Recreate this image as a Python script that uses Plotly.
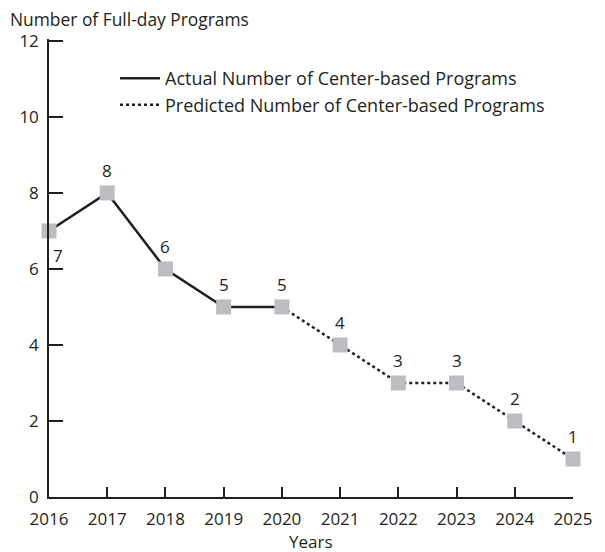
import plotly.graph_objects as go

years = [2016, 2017, 2018, 2019, 2020, 2021, 2022, 2023, 2024, 2025]
programs = [7, 8, 6, 5, 5, 4, 3, 3, 2, 1]
actual_years = [2016, 2017, 2018, 2019, 2020]
actual_vals = [7, 8, 6, 5, 5]
pred_years = [2020, 2021, 2022, 2023, 2024, 2025]
pred_vals = [5, 4, 3, 3, 2, 1]
y_ticks = [0, 2, 4, 6, 8, 10, 12]

FONT = "Open Sans"
INK = "#231f20"
FS = 17

fig = go.Figure()
fig.add_trace(go.Scatter(x=actual_years, y=actual_vals, mode="lines",
                         name="Actual Number of Center-based Programs",
                         line=dict(color=INK, width=2.5), cliponaxis=False))
fig.add_trace(go.Scatter(x=pred_years, y=pred_vals, mode="lines",
                         name="Predicted Number of Center-based Programs",
                         line=dict(color=INK, width=2.5, dash="3px,3px"), cliponaxis=False))
fig.add_trace(go.Scatter(x=years, y=programs, mode="markers", showlegend=False,
                         marker=dict(symbol="square", size=15, color="#bcbdc0",
                                     line=dict(width=0)), cliponaxis=False))

for i, (x, y) in enumerate(zip(years, programs)):
    if i == 0:
        fig.add_annotation(x=x, y=y, text=str(y), showarrow=False, xshift=9, yshift=-25,
                           font=dict(family=FONT, size=FS, color=INK))
    else:
        fig.add_annotation(x=x, y=y, text=str(y), showarrow=False, yshift=22,
                           font=dict(family=FONT, size=FS, color=INK))

fig.add_annotation(xref="paper", yref="paper", x=-0.078, y=1.0437, xanchor="left", yanchor="middle",
                   text="Number of Full-day Programs", showarrow=False,
                   font=dict(family=FONT, size=17.4, color=INK))
fig.add_annotation(xref="paper", yref="paper", x=0.5, y=-0.0965, xanchor="center", yanchor="middle",
                   text="Years", showarrow=False,
                   font=dict(family=FONT, size=FS, color=INK))

fig.update_layout(
    width=605, height=552,
    margin=dict(l=49, r=32, t=39, b=55),
    paper_bgcolor="white", plot_bgcolor="white",
    font=dict(family=FONT, size=FS, color=INK),
    legend=dict(x=0.126, y=0.954, xanchor="left", yanchor="top",
                bgcolor="rgba(0,0,0,0)", font=dict(family=FONT, size=18, color=INK),
                tracegroupgap=0, itemwidth=40),
    xaxis=dict(range=[2016, 2025], tickvals=years, ticktext=[str(y) for y in years],
               showgrid=False, zeroline=False, showline=True, linecolor=INK, linewidth=1.5,
               ticks="inside", ticklen=10, tickwidth=1.5, tickcolor=INK,
               ticklabelstandoff=6,
               tickfont=dict(family=FONT, size=FS, color=INK)),
    yaxis=dict(range=[0, 12.05], tickvals=y_ticks, showgrid=False, zeroline=False,
               showline=True, linecolor=INK, linewidth=1.5,
               ticks="inside", ticklen=14, tickwidth=2, tickcolor=INK,
               ticklabelstandoff=5,
               tickfont=dict(family=FONT, size=FS, color=INK)),
)

fig.write_html("out.html", config={"displayModeBar": False},
               post_script="document.body.style.margin='0px';")
